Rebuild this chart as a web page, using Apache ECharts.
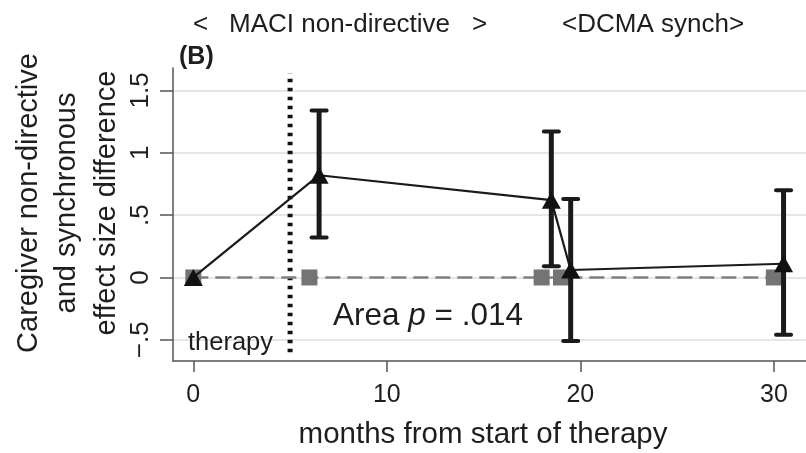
<!DOCTYPE html>
<html>
<head>
<meta charset="utf-8">
<script src="https://cdn.jsdelivr.net/npm/echarts@6/dist/echarts.min.js"></script>
<style>
html,body{margin:0;padding:0;background:#fff;}
#chart{width:806px;height:453px;}
</style>
</head>
<body>
<div id="chart"></div>
<script>
// ---- data ----
const months = [0, 6.5, 18.5, 19.5, 30.5];
const effectDiff = [0, 0.82, 0.62, 0.06, 0.11];
const ciLower = [null, 0.32, 0.09, -0.51, -0.46];
const ciUpper = [null, 1.34, 1.17, 0.63, 0.70];
const refMonths = [0, 6, 18, 19, 30];
const refValues = [0, 0, 0, 0, 0];
const xTicks = [0, 10, 20, 30];
const yTicks = [-0.5, 0, 0.5, 1, 1.5];
const yTickLabels = ['\u2212.5', '0', '.5', '1', '1.5'];
const therapyEndMonth = 5;
const dividerSpan = [-0.6, 1.64];
const topLabels = ['<', 'MACI non-directive', '>', '<DCMA synch>'];
const yTitleLines = ['Caregiver non-directive', 'and synchronous', 'effect size difference'];
const xTitle = 'months from start of therapy';

const FONT = 'Liberation Sans, Arial, sans-serif';
const TXT = '#1e1e1e';

const mainData = months.map((m, i) => [m, effectDiff[i]]);
const refData = refMonths.map((m, i) => [m, refValues[i]]);
const ciData = [];
months.forEach((m, i) => { if (ciLower[i] !== null) ciData.push([m, ciLower[i], ciUpper[i]]); });
const dividerData = dividerSpan.map(v => [therapyEndMonth, v]);

const chart = echarts.init(document.getElementById('chart'), null, {renderer: 'canvas'});

const gridLineSeries = {
  type: 'line', data: [], silent: true, z: 0,
  markLine: {
    z: 0, silent: true, symbol: 'none', label: {show: false},
    lineStyle: {color: '#e6e6e6', width: 2, type: 'solid'},
    emphasis: {disabled: true},
    animation: false,
    data: yTicks.map(v => ({yAxis: v}))
  }
};

chart.setOption({
  animation: false,
  backgroundColor: '#fff',
  grid: {left: 173, top: 68, right: 0, bottom: 92, containLabel: false},
  xAxis: {
    type: 'value', min: -1.05, max: 31.66,
    axisLine: {show: true, onZero: false, lineStyle: {color: '#555', width: 1.5}},
    axisTick: {show: true, length: 11, customValues: xTicks, lineStyle: {color: '#555', width: 1.5}},
    axisLabel: {show: true, customValues: xTicks, margin: 22, fontSize: 25, color: TXT, fontFamily: FONT},
    splitLine: {show: false}
  },
  yAxis: {
    type: 'value', min: -0.67, max: 1.68,
    axisLine: {show: true, onZero: false, lineStyle: {color: '#555', width: 1.5}},
    axisTick: {show: true, length: 13, customValues: yTicks, lineStyle: {color: '#555', width: 1.5}},
    axisLabel: {show: true, customValues: yTicks, rotate: 90, margin: 19, fontSize: 26, color: TXT, fontFamily: FONT,
      formatter: v => { const i = yTicks.findIndex(t => Math.abs(t - v) < 1e-9); return i >= 0 ? yTickLabels[i] : ''; }},
    splitLine: {show: false}
  },
  series: [
    gridLineSeries,
    {
      type: 'line', data: dividerData, symbol: 'none', z: 2, silent: true,
      lineStyle: {color: '#111', width: 5, type: [3.5, 5.5]}
    },
    {
      type: 'line', data: refData, symbol: 'none', z: 3, silent: true,
      lineStyle: {color: '#808080', width: 2.5, type: [15, 7]}
    },
    {
      type: 'scatter', data: refData, symbol: 'rect', symbolSize: 16, z: 3,
      itemStyle: {color: '#747474', opacity: 1}
    },
    {
      type: 'custom', data: ciData, z: 4,
      encode: {x: 0, y: [1, 2]},
      renderItem: function (params, api) {
        const x = api.value(0), lo = api.value(1), hi = api.value(2);
        const pLo = api.coord([x, lo]);
        const pHi = api.coord([x, hi]);
        const hw = 7.5;
        const stroke = '#1a1a1a';
        return {
          type: 'group',
          children: [
            {type: 'line', shape: {x1: pLo[0], y1: pLo[1], x2: pHi[0], y2: pHi[1]}, style: {stroke, lineWidth: 5}},
            {type: 'line', shape: {x1: pHi[0] - hw, y1: pHi[1], x2: pHi[0] + hw, y2: pHi[1]}, style: {stroke, lineWidth: 4, lineCap: 'round'}},
            {type: 'line', shape: {x1: pLo[0] - hw, y1: pLo[1], x2: pLo[0] + hw, y2: pLo[1]}, style: {stroke, lineWidth: 4, lineCap: 'round'}}
          ]
        };
      }
    },
    {
      type: 'line', data: mainData, symbol: 'triangle', symbolSize: [19, 17], z: 5,
      itemStyle: {color: '#111'},
      lineStyle: {color: '#1a1a1a', width: 2.2}
    }
  ],
  graphic: [
    {type: 'text', left: 193, top: 12, style: {text: topLabels[0], font: '26px ' + FONT, fill: TXT}},
    {type: 'text', left: 229, top: 12, style: {text: topLabels[1], font: '26px ' + FONT, fill: TXT}},
    {type: 'text', left: 472, top: 12, style: {text: topLabels[2], font: '26px ' + FONT, fill: TXT}},
    {type: 'text', left: 562, top: 12, style: {text: topLabels[3], font: '26px ' + FONT, fill: TXT}},
    {type: 'text', left: 179, top: 45, style: {text: '(B)', font: 'bold 25px ' + FONT, fill: TXT}},
    {type: 'text', left: 188, top: 330, z: 10, style: {text: 'therapy', font: '25.5px ' + FONT, fill: TXT}},
    {type: 'text', left: 333, top: 300, z: 10, style: {
      text: 'Area {i|p} = .014', font: '31.5px ' + FONT, fill: TXT,
      rich: {i: {fontStyle: 'italic', fontSize: 31.5, fontFamily: FONT, fill: TXT}}
    }},
    {type: 'text', x: 483, y: 435, style: {text: xTitle, font: '29.5px ' + FONT, fill: TXT, align: 'center', verticalAlign: 'middle'}},
    {type: 'text', x: 29, y: 203, rotation: Math.PI / 2, style: {text: yTitleLines[0], font: '29px ' + FONT, fill: TXT, align: 'center', verticalAlign: 'middle'}},
    {type: 'text', x: 67, y: 203, rotation: Math.PI / 2, style: {text: yTitleLines[1], font: '29px ' + FONT, fill: TXT, align: 'center', verticalAlign: 'middle'}},
    {type: 'text', x: 107, y: 203, rotation: Math.PI / 2, style: {text: yTitleLines[2], font: '29px ' + FONT, fill: TXT, align: 'center', verticalAlign: 'middle'}}
  ]
});
</script>
</body>
</html>
